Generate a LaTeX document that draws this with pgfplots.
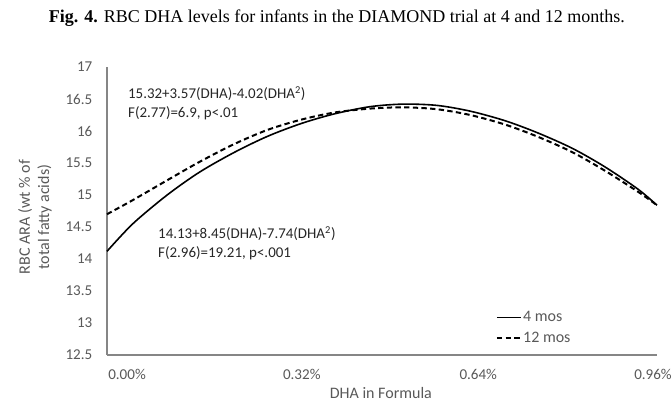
\documentclass[border=0pt]{standalone}
\usepackage{fontspec}
\setmainfont{Carlito}
\newfontfamily\titlefont{Liberation Serif}
\usepackage{pgfplots}
\pgfplotsset{compat=1.18}
\definecolor{axisgray}{HTML}{868686}
\definecolor{labelgray}{HTML}{595959}

\begin{document}
\begin{tikzpicture}
% frame of the whole figure (672 x 404 px at 0.75pt/px)
\path[use as bounding box] (-80.25pt,-36.75pt) rectangle (423.75pt,266.25pt);
\begin{axis}[
  scale only axis, width=412.5pt, height=216pt,
  xmin=0, xmax=0.96, ymin=12.5, ymax=17,
  axis x line=bottom, axis y line=left,
  axis line style={draw=axisgray, line width=0.8pt, -},
  xtick={0.035,0.340,0.648,0.953},
  xticklabels={0.00\%,0.32\%,0.64\%,0.96\%},
  ytick={12.5,13,...,17},
  major tick length=0pt,
  tick label style={font=\fontsize{11.3}{13}\selectfont, text=labelgray},
  /pgf/number format/assume math mode=true,
  yticklabel style={xshift=-7.5pt},
  xticklabel style={yshift=-7.5pt},
  xlabel={DHA in Formula},
  xlabel style={at={(axis description cs:0.498,-0.132)}, anchor=center,
    font=\fontsize{12}{14}\selectfont, text=labelgray},
  ylabel={RBC ARA (wt \% of\\total fatty acids)},
  ylabel style={at={(axis description cs:-0.131,0.479)}, anchor=center,
    align=center, font=\fontsize{12}{14.4}\selectfont, text=labelgray},
  legend style={at={(axis description cs:0.707,0.094)}, anchor=west,
    draw=none, fill=none, inner sep=0pt, outer sep=0pt,
    nodes={inner sep=1pt}, row sep=4.5pt,
    font=\fontsize{12}{14}\selectfont, text=labelgray},
  legend cell align=left,
  legend image code/.code={\draw[#1] (0pt,0pt) -- (18pt,0pt);},
  clip=false,
]
% 4 months
\addplot[black, line width=1.2pt, smooth] coordinates {
  (0.000,14.12) (0.045,14.55) (0.105,15.00) (0.162,15.36) (0.223,15.67)
  (0.281,15.92) (0.340,16.12) (0.398,16.27) (0.459,16.38) (0.517,16.42)
  (0.576,16.40) (0.634,16.31) (0.695,16.16) (0.752,15.97) (0.812,15.73)
  (0.869,15.44) (0.927,15.09) (0.960,14.84)
};
\addlegendentry{4 mos}
% 12 months
\addplot[black, line width=1.5pt, dash pattern=on 4pt off 2.5pt, smooth] coordinates {
  (0.000,14.70) (0.045,14.92) (0.105,15.23) (0.162,15.52) (0.223,15.80)
  (0.281,16.02) (0.340,16.18) (0.398,16.29) (0.459,16.35) (0.517,16.37)
  (0.576,16.34) (0.634,16.25) (0.695,16.10) (0.752,15.91) (0.812,15.67)
  (0.869,15.38) (0.927,15.05) (0.960,14.84)
};
\addlegendentry{12 mos}

\node[anchor=west, align=left, inner sep=0pt, font=\fontsize{11.2}{14.2}\selectfont, text=black!85]
  at (axis description cs:0.038,0.873)
  {15.32+3.57(DHA)-4.02(DHA\textsuperscript{2})\\F(2.77)=6.9, p<.01};
\node[anchor=west, align=left, inner sep=0pt, font=\fontsize{11.2}{14.2}\selectfont, text=black!85]
  at (axis description cs:0.0927,0.389)
  {14.13+8.45(DHA)-7.74(DHA\textsuperscript{2})\\F(2.96)=19.21, p<.001};

\node[font=\titlefont\fontsize{13.5}{16}\selectfont] at (axis description cs:0.418,1.170)
  {\textbf{Fig. 4.} RBC DHA levels for infants in the DIAMOND trial at 4 and 12 months.};
\end{axis}
\end{tikzpicture}
\end{document}
